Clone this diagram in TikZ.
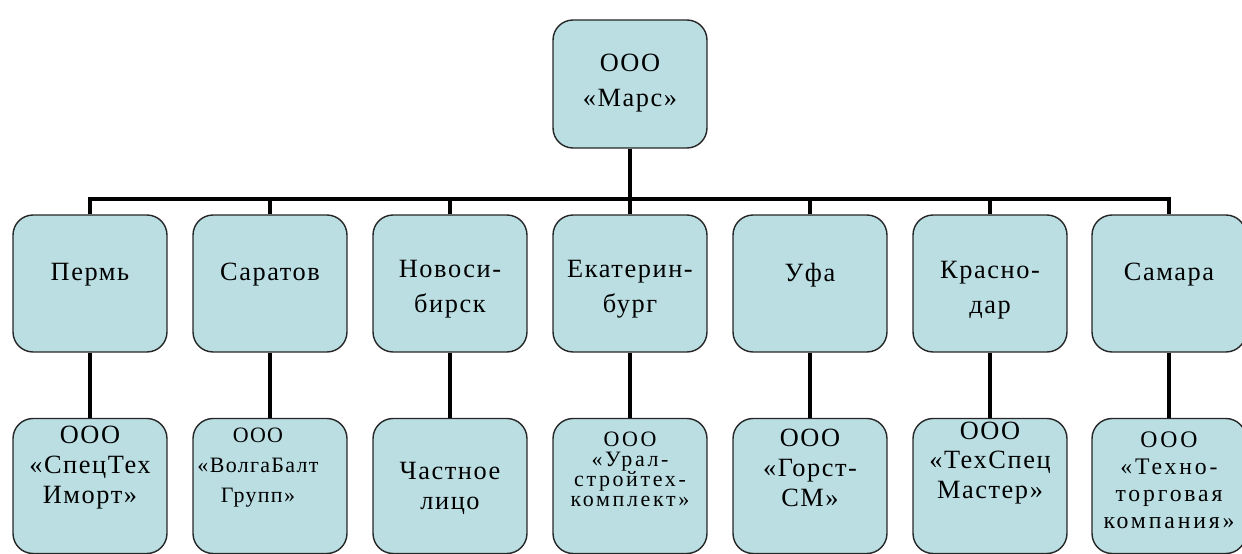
\documentclass[tikz,border=0pt]{standalone}
\usepackage{fontspec}
\setmainfont{Liberation Serif}[LetterSpace=6]
\definecolor{boxfill}{RGB}{186,222,226}
\tikzset{
  box/.style={draw=black!85, line width=0.8pt, fill=boxfill, rounded corners=0.4cm,
    minimum width=3.08cm, minimum height=2.74cm, inner sep=0pt},
  txt/.style={align=center, inner sep=0pt, font=\fontsize{15}{20}\selectfont},
  low/.style={txt, font=\fontsize{15}{17}\selectfont},
  small/.style={txt, font=\fontsize{13.5}{15.4}\selectfont\addfontfeature{LetterSpace=12}},
  conn/.style={line width=2.3pt}
}
\begin{document}
\begin{tikzpicture}[x=0.02cm, y=-0.02cm]
  \useasboundingbox (0,0) rectangle (1242,554);

  % head office
  \node[box, minimum height=2.56cm] (mars) at (630,84) {};
  \node[txt] (marst) at (630,83) {ООО\\«Марс»};

  % branches
  \node[box] (perm)  at (90,283.5)   {};
  \node[box] (sar)   at (270,283.5)  {};
  \node[box] (nsk)   at (450,283.5)  {};
  \node[box] (ekb)   at (630,283.5)  {};
  \node[box] (ufa)   at (810,283.5)  {};
  \node[box] (krd)   at (990,283.5)  {};
  \node[box] (sam)   at (1169,283.5) {};
  \node[txt] (permt) at (90,275)   {Пермь};
  \node[txt] (sart)  at (270,275)  {Саратов};
  \node[txt] (nskt)  at (450,289)  {Новоси-\\бирск};
  \node[txt] (ekbt)  at (630,289)  {Екатерин-\\бург};
  \node[txt] (ufat)  at (810,275)  {Уфа};
  \node[txt] (krdt)  at (990,290)  {Красно-\\дар};
  \node[txt] (samt)  at (1169,275) {Самара};

  % partners
  \node[box, minimum height=2.7cm] (spec)  at (90,486)   {};
  \node[box, minimum height=2.7cm] (volga) at (270,486)  {};
  \node[box, minimum height=2.7cm] (priv)  at (450,486)  {};
  \node[box, minimum height=2.7cm] (ural)  at (630,486)  {};
  \node[box, minimum height=2.7cm] (gorst) at (810,486)  {};
  \node[box, minimum height=2.7cm] (tsm)   at (990,486)  {};
  \node[box, minimum height=2.7cm] (tehno) at (1169,486) {};
  \node[low] (spect)  at (90,467.5)   {ООО\\«СпецТех\\Иморт»};
  \node[small, font=\fontsize{12.5}{17}\selectfont\addfontfeature{LetterSpace=6}] (volgat) at (258,467.5) {ООО\\«ВолгаБалт\\Групп»};
  \node[low] (privt)  at (450,488.5)  {Частное\\лицо};
  \node[small, font=\fontsize{12.5}{11.4}\selectfont\addfontfeature{LetterSpace=12}] (uralt) at (630,469.5) {ООО\\«Урал-\\стройтех-\\комплект»};
  \node[low] (gorstt) at (810,468)    {ООО\\«Горст-\\СМ»};
  \node[low] (tsmt)   at (990,463)    {ООО\\«ТехСпец\\Мастер»};
  \node[small] (tehnot) at (1169,480.5) {ООО\\«Техно-\\торговая\\компания»};

  % links
  \coordinate (bus) at (630,199);
  \draw[conn] (mars) -- (bus);
  \draw[conn] (bus) -| (perm);
  \draw[conn] (bus) -| (sar);
  \draw[conn] (bus) -| (nsk);
  \draw[conn] (bus) -| (ekb);
  \draw[conn] (bus) -| (ufa);
  \draw[conn] (bus) -| (krd);
  \draw[conn] (bus) -| (sam);
  \draw[conn] (perm) -- (spec);
  \draw[conn] (sar) -- (volga);
  \draw[conn] (nsk) -- (priv);
  \draw[conn] (ekb) -- (ural);
  \draw[conn] (ufa) -- (gorst);
  \draw[conn] (krd) -- (tsm);
  \draw[conn] (sam) -- (tehno);
\end{tikzpicture}
\end{document}
